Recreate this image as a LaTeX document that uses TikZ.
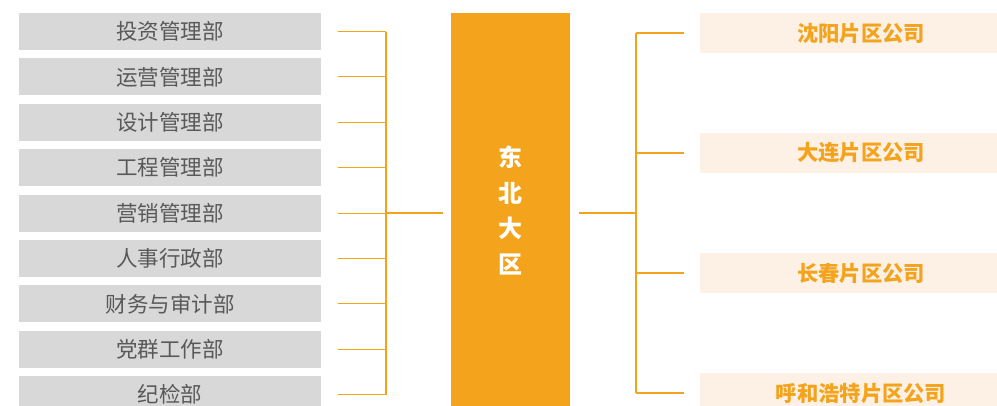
\documentclass[tikz,border=0pt]{standalone}
\usepackage{fontspec}
\setmainfont{Noto Sans CJK SC}
\definecolor{org}{HTML}{F3A31C}
\definecolor{grybox}{HTML}{D8D8D8}
\definecolor{grytxt}{HTML}{595959}
\definecolor{peach}{HTML}{FDF0E5}
\begin{document}
\begin{tikzpicture}[x=1pt,y=-1pt,
  deptbox/.style={fill=grybox, minimum width=302pt, minimum height=37pt, inner sep=0pt,
    text=grytxt, font=\fontsize{21.5}{23}\selectfont},
  subbox/.style={fill=peach, minimum width=322pt, minimum height=40pt, inner sep=0pt,
    text=org, font=\fontsize{21.3}{23}\selectfont\bfseries},
  centerbox/.style={fill=org, minimum width=119pt, minimum height=400pt, inner sep=0pt,
    text=white, font=\fontsize{24}{35.5}\selectfont\bfseries, align=center},
  link/.style={draw=org, line width=1.1pt}]
\clip (0,0) rectangle (997,405);
\foreach \t [count=\i from 0] in {投资管理部,运营管理部,设计管理部,工程管理部,营销管理部,人事行政部,财务与审计部,党群工作部,纪检部}
  \node[deptbox] (L\i) at (170,{31.5+45.4*\i}) {\t};
\node[centerbox] (C) at (510.5,213) {\raisebox{3pt}{\begin{tabular}{@{}c@{}}东\\北\\大\\区\end{tabular}}};
\node[subbox] (R0) at (861,33) {沈阳片区公司};
\node[subbox] (R1) at (861,153) {大连片区公司};
\node[subbox] (R2) at (861,273) {长春片区公司};
\node[subbox] (R3) at (861,393) {呼和浩特片区公司};
\coordinate (busL) at (386,213);
\coordinate (busR) at (636,213);
\foreach \i in {0,...,8}
  \draw[link] ([xshift=17pt]L\i.east) -- (L\i.east -| busL);
\draw[link] (L0.east -| busL) -- (L8.east -| busL);
\draw[link] (busL) -- ([xshift=-8pt]C.west |- busL);
\draw[link] ([xshift=9pt]C.east |- busR) -- (busR);
\draw[link] (busR |- R0.west) -- (busR |- R3.west);
\foreach \i in {0,...,3}
  \draw[link] (busR |- R\i.west) -- ([xshift=-16pt]R\i.west);
\end{tikzpicture}
\end{document}
